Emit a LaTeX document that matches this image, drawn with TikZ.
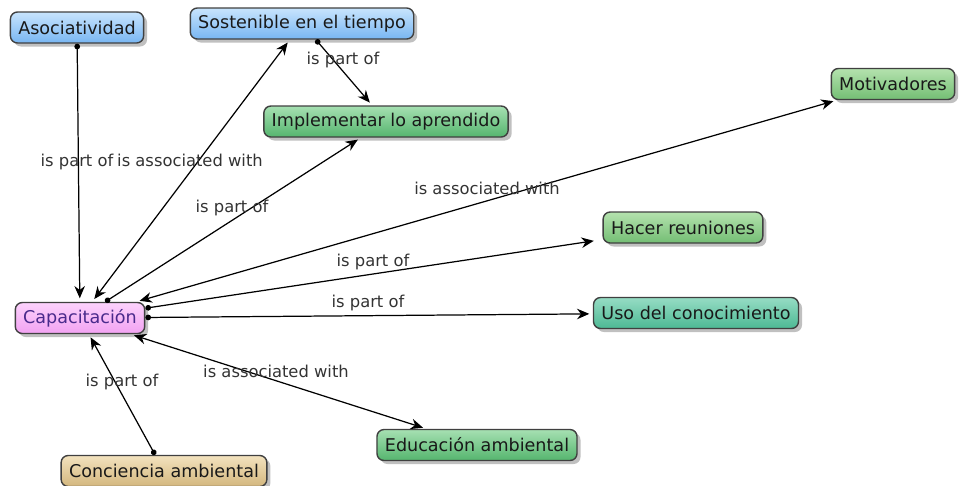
\documentclass[tikz,border=0pt]{standalone}
\usepackage{fontspec}
\setmainfont{DejaVu Sans}
\usepackage{xcolor}
\usetikzlibrary{arrows.meta,shapes,positioning,calc,shadows}
\definecolor{blueTop}{HTML}{C8E4FD}
\definecolor{blueBot}{HTML}{78B6F2}
\definecolor{greenTop}{HTML}{A6E0B2}
\definecolor{greenBot}{HTML}{55B56E}
\definecolor{oliveTop}{HTML}{B4E2AE}
\definecolor{oliveBot}{HTML}{74BE74}
\definecolor{tealTop}{HTML}{96DCC4}
\definecolor{tealBot}{HTML}{4DB994}
\definecolor{pinkTop}{HTML}{FCD2FC}
\definecolor{pinkBot}{HTML}{F2A2F2}
\definecolor{tanTop}{HTML}{F2E2BE}
\definecolor{tanBot}{HTML}{D4B77E}
\definecolor{capText}{HTML}{4A2A8C}
\tikzset{
    concept/.style={
        rectangle,
        rounded corners=4pt,
        draw=black!75,
        line width=0.8pt,
        minimum height=0.62cm,
        inner xsep=4.5pt,
        text=black!90,
        font=\fontsize{10}{12}\selectfont,
        drop shadow={shadow xshift=2pt, shadow yshift=-2pt, fill=black!45, opacity=.55}
    },
    blue-concept/.style={concept, top color=blueTop, bottom color=blueBot},
    green-concept/.style={concept, top color=greenTop, bottom color=greenBot},
    olive-concept/.style={concept, top color=oliveTop, bottom color=oliveBot},
    teal-concept/.style={concept, top color=tealTop, bottom color=tealBot},
    pink-concept/.style={concept, top color=pinkTop, bottom color=pinkBot, text=capText},
    tan-concept/.style={concept, top color=tanTop, bottom color=tanBot},
    link-label/.style={
        font=\fontsize{9.3}{11}\selectfont,
        text=black!80,
        inner sep=1pt
    },
    link/.style={
        draw=black,
        line width=0.7pt,
        shorten >=2pt,
        {Circle[length=3.2pt]}-{Stealth[length=7pt,width=6pt]}
    },
    both-link/.style={
        draw=black,
        line width=0.7pt,
        shorten >=2pt,
        shorten <=2pt,
        {Stealth[length=7pt,width=6pt]}-{Stealth[length=7pt,width=6pt]}
    },
}

\begin{document}
\begin{tikzpicture}[x=0.02cm,y=-0.02cm]
    \useasboundingbox (0,0) rectangle (959,485);

    % concepts
    \node[blue-concept] (asoc) at (77,27.5) {Asociatividad};
    \node[blue-concept] (sost) at (302,23.5) {Sostenible en el tiempo};
    \node[green-concept] (impl) at (386,121.5) {Implementar lo aprendido};
    \node[olive-concept] (motiv) at (893,84) {Motivadores};
    \node[olive-concept] (hacer) at (683,227.5) {Hacer reuniones};
    \node[teal-concept] (uso) at (696,313) {Uso del conocimiento};
    \node[pink-concept] (cap) at (80,318) {Capacitación};
    \node[green-concept] (educ) at (477,445) {Educación ambiental};
    \node[tan-concept] (conc) at (164,471) {Conciencia ambiental};

    % links
    \draw[link] (asoc) -- (cap);
    \draw[both-link] (cap) -- (sost);
    \draw[link] (cap) -- (impl);
    \draw[link] (sost) -- (impl);
    \draw[both-link] (cap) -- (motiv);
    \draw[link, shorten >=5pt] (cap) -- (hacer);
    \draw[link] (cap) -- (uso);
    \draw[both-link] (cap) -- (educ);
    \draw[link] (conc) -- (cap);

    % link labels
    \node[link-label] (l1) at (77,162) {is part of};
    \node[link-label] (l2) at (190,160) {is associated with};
    \node[link-label] (l3) at (232,208) {is part of};
    \node[link-label] (l4) at (343,60) {is part of};
    \node[link-label] (l5) at (487,188) {is associated with};
    \node[link-label] (l6) at (373,262) {is part of};
    \node[link-label] (l7) at (368,303) {is part of};
    \node[link-label] (l8) at (276,371) {is associated with};
    \node[link-label] (l9) at (122,382) {is part of};
\end{tikzpicture}
\end{document}
